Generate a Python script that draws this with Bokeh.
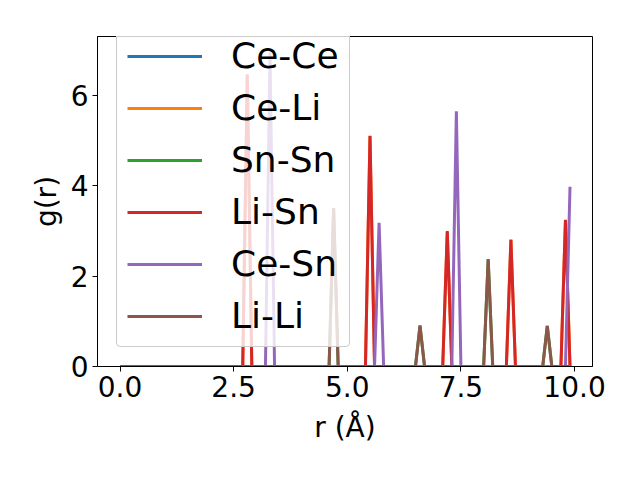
from bokeh.plotting import figure
from bokeh.models import FixedTicker, Legend, LegendItem, Range1d
from bokeh.embed import file_html
from bokeh.resources import INLINE

# ---- data ----
r = [i / 10 for i in range(100)]  # r in Angstrom, bins 0.0 .. 9.9

series_names = ["Ce-Ce", "Ce-Li", "Sn-Sn", "Li-Sn", "Ce-Sn", "Li-Li"]
series_colors = ["#1f77b4", "#ff7f0e", "#2ca02c", "#d62728", "#9467bd", "#8c564b"]

ce_ce_peaks_r = []
ce_ce_peaks_g = []
ce_li_peaks_r = [2.8, 5.5, 7.2, 8.6, 9.8]
ce_li_peaks_g = [6.45, 5.10, 2.98, 2.80, 3.24]
sn_sn_peaks_r = [4.7, 6.6, 8.1, 9.4]
sn_sn_peaks_g = [3.50, 0.90, 2.37, 0.90]
li_sn_peaks_r = [2.8, 5.5, 7.2, 8.6, 9.8]
li_sn_peaks_g = [6.47, 5.11, 3.00, 2.81, 3.25]
ce_sn_peaks_r = [3.3, 5.7, 7.4, 9.9]
ce_sn_peaks_g = [6.96, 3.18, 5.65, 3.98]
li_li_peaks_r = [4.7, 6.6, 8.1, 9.4]
li_li_peaks_g = [3.51, 0.91, 2.38, 0.90]

x_ticks = [0, 2.5, 5, 7.5, 10]
x_tick_labels = ["0.0", "2.5", "5.0", "7.5", "10.0"]
y_ticks = [0, 2, 4, 6]
y_tick_labels = ["0", "2", "4", "6"]


def build(peaks_r, peaks_g):
    g = [0.0] * len(r)
    for pr, pg in zip(peaks_r, peaks_g):
        g[int(round(pr * 10))] = pg
    return g


series_values = [
    build(ce_ce_peaks_r, ce_ce_peaks_g),
    build(ce_li_peaks_r, ce_li_peaks_g),
    build(sn_sn_peaks_r, sn_sn_peaks_g),
    build(li_sn_peaks_r, li_sn_peaks_g),
    build(ce_sn_peaks_r, ce_sn_peaks_g),
    build(li_li_peaks_r, li_li_peaks_g),
]

FONT = "DejaVu Sans"

ymax = max(max(v) for v in series_values)
p = figure(
    width=624, height=464,
    output_backend="svg", toolbar_location=None,
    x_range=Range1d(-0.495, 10.395),
    y_range=Range1d(0, ymax * 1.05),
    min_border_left=97, min_border_top=36,
    min_border_right=32, min_border_bottom=98,
    background_fill_color="white", border_fill_color="white",
)
p.xgrid.visible = False
p.ygrid.visible = False
p.outline_line_color = "black"
p.outline_line_width = 1

renderers = []
for name, color, vals in zip(series_names, series_colors, series_values):
    rr = p.line(r, vals, line_color=color, line_width=3)
    renderers.append((name, rr))

for ax in (p.xaxis[0], p.yaxis[0]):
    ax.major_label_text_font = FONT
    ax.major_label_text_font_size = "28px"
    ax.major_label_text_color = "black"
    ax.axis_label_text_font = FONT
    ax.axis_label_text_font_size = "28px"
    ax.axis_label_text_font_style = "normal"
    ax.axis_label_text_color = "black"
    ax.major_tick_in = 0
    ax.major_tick_out = 5
    ax.minor_tick_line_color = None
    ax.axis_line_color = "black"
    ax.major_tick_line_color = "black"
    ax.major_label_standoff = 4

p.xaxis.ticker = FixedTicker(ticks=x_ticks)
p.xaxis.major_label_overrides = dict(zip(x_ticks, x_tick_labels))
p.yaxis.ticker = FixedTicker(ticks=y_ticks)
p.yaxis.major_label_overrides = dict(zip(y_ticks, y_tick_labels))
p.xaxis.axis_label = "r (Å)"
p.yaxis.axis_label = "g(r)"
p.xaxis.axis_label_standoff = 11
p.yaxis.axis_label_standoff = 5

legend = Legend(
    items=[LegendItem(label=n, renderers=[rr]) for n, rr in renderers],
    location=(19, 19),
    label_text_font=FONT,
    label_text_font_size="36px",
    label_text_color="black",
    glyph_width=75,
    glyph_height=20,
    label_height=20,
    spacing=11,
    padding=10,
    label_standoff=29,
    background_fill_color="white",
    background_fill_alpha=0.8,
    border_line_color="#cccccc",
    border_line_width=1,
    border_line_alpha=1.0,
)
try:
    legend.border_radius = 4
except Exception:
    pass
p.add_layout(legend, "center")

open("out.html", "w").write(file_html(p, INLINE))
